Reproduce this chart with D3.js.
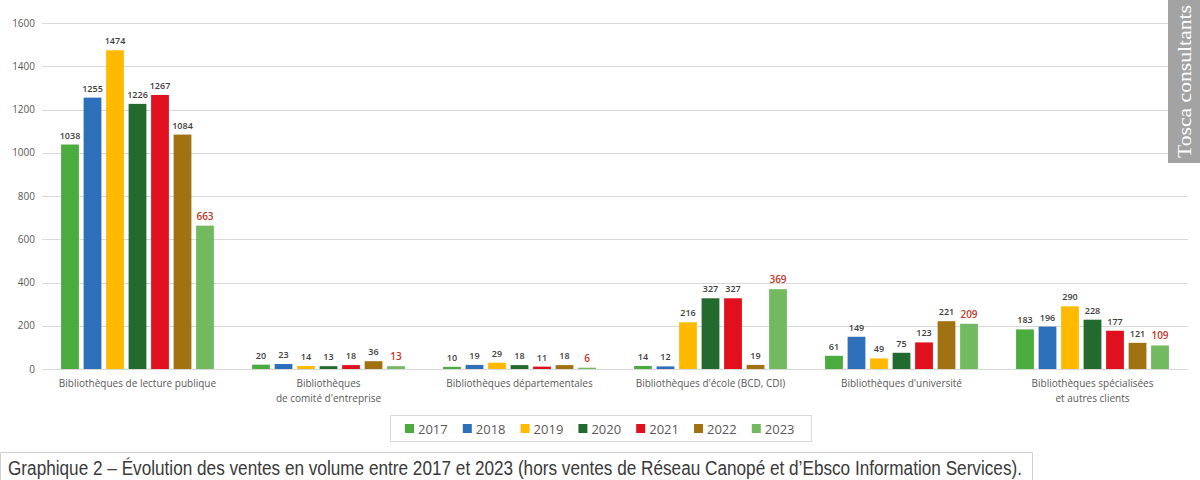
<!DOCTYPE html>
<html>
<head>
<meta charset="utf-8">
<script src="https://cdn.jsdelivr.net/npm/d3@7"></script>
<style>
  body { margin: 0; background: #fff; }
  svg { display: block; }
</style>
</head>
<body>
<svg id="chart" width="1200" height="480"></svg>
<script>
// Categories and series
const categories = [
    ["Bibliothèques de lecture publique"],
    ["Bibliothèques", "de comité d'entreprise"],
    ["Bibliothèques départementales"],
    ["Bibliothèques d'école (BCD, CDI)"],
    ["Bibliothèques d'université"],
    ["Bibliothèques spécialisées", "et autres clients"]
];
const years = ["2017", "2018", "2019", "2020", "2021", "2022", "2023"];
const v2017 = [1038, 20, 10, 14, 61, 183];
const v2018 = [1255, 23, 19, 12, 149, 196];
const v2019 = [1474, 14, 29, 216, 49, 290];
const v2020 = [1226, 13, 18, 327, 75, 228];
const v2021 = [1267, 18, 11, 327, 123, 177];
const v2022 = [1084, 36, 18, 19, 221, 121];
const v2023 = [663, 13, 6, 369, 209, 109];
const yTicks = [0, 200, 400, 600, 800, 1000, 1200, 1400, 1600];

const series = [v2017, v2018, v2019, v2020, v2021, v2022, v2023];
const colors = ["#4aab3e", "#2e6fb9", "#ffba00", "#226a2e", "#e0101e", "#a07212", "#72b95f"];

const svg = d3.select("#chart");
const margin = { top: 23, right: 12, bottom: 111, left: 42 };
const width = 1200, height = 480;

const x0 = d3.scaleBand()
    .domain(d3.range(categories.length))
    .range([margin.left, width - margin.right])
    .paddingInner(0.2)
    .paddingOuter(0.1);

const x1 = d3.scaleBand()
    .domain(years)
    .range([0, x0.bandwidth()])
    .paddingInner(0.21);

const y = d3.scaleLinear()
    .domain([0, 1600])
    .range([height - margin.bottom, margin.top]);

// Gridlines
svg.append("g")
    .selectAll("line")
    .data(yTicks)
    .enter()
    .append("line")
    .attr("x1", margin.left)
    .attr("x2", width - margin.right)
    .attr("y1", d => Math.round(y(d)) + 0.5)
    .attr("y2", d => Math.round(y(d)) + 0.5)
    .attr("stroke", "#d9d9d9")
    .attr("stroke-width", 1);

// Y axis labels
svg.append("g")
    .selectAll("text")
    .data(yTicks)
    .enter()
    .append("text")
    .attr("x", 35)
    .attr("y", d => y(d) + 3.5)
    .attr("text-anchor", "end")
    .style("font-family", "'Open Sans', sans-serif")
    .style("font-size", "10px")
    .style("fill", "#595959")
    .text(d => d);

// Bars
const groups = svg.append("g")
    .selectAll("g")
    .data(categories.map((c, i) => i))
    .enter()
    .append("g")
    .attr("transform", i => `translate(${x0(i)},0)`);

groups.selectAll("rect")
    .data(i => years.map((yr, k) => ({ yr, k, value: series[k][i] })))
    .enter()
    .append("rect")
    .attr("x", d => x1(d.yr))
    .attr("y", d => y(d.value))
    .attr("width", x1.bandwidth())
    .attr("height", d => y(0) - y(d.value))
    .attr("fill", d => colors[d.k]);

groups.selectAll("text.val")
    .data(i => years.map((yr, k) => ({ yr, k, value: series[k][i] })))
    .enter()
    .append("text")
    .attr("class", "val")
    .attr("x", d => x1(d.yr) + x1.bandwidth() / 2)
    .attr("y", d => y(d.value) - 6)
    .attr("text-anchor", "middle")
    .style("font-family", "'Open Sans', sans-serif")
    .style("font-size", d => d.k === 6 ? "10px" : "9px")
    .style("font-weight", "600")
    .style("fill", d => d.k === 6 ? "#c0392b" : "#404040")
    .text(d => d.value);

// Category labels
svg.append("g")
    .selectAll("text")
    .data(categories)
    .enter()
    .append("text")
    .attr("x", (c, i) => x0(i) + x0.bandwidth() / 2)
    .attr("y", 387)
    .attr("text-anchor", "middle")
    .style("font-family", "'Open Sans', sans-serif")
    .style("font-size", "10px")
    .style("fill", "#595959")
    .each(function(lines) {
        d3.select(this).selectAll("tspan")
            .data(lines)
            .enter()
            .append("tspan")
            .attr("x", d3.select(this).attr("x"))
            .attr("dy", (d, j) => j === 0 ? 0 : 15)
            .text(d => d);
    });

// Legend
const legend = svg.append("g");
legend.append("rect")
    .attr("x", 390.5)
    .attr("y", 415.5)
    .attr("width", 421)
    .attr("height", 26)
    .attr("fill", "#fff")
    .attr("stroke", "#d9d9d9");

const items = legend.selectAll("g")
    .data(years)
    .enter()
    .append("g")
    .attr("transform", (d, i) => `translate(${405 + i * 57.8},0)`);

items.append("rect")
    .attr("x", 0)
    .attr("y", 424)
    .attr("width", 9)
    .attr("height", 9)
    .attr("fill", (d, i) => colors[i]);

items.append("text")
    .attr("x", 13)
    .attr("y", 433.5)
    .style("font-family", "'Open Sans', sans-serif")
    .style("font-size", "13px")
    .style("fill", "#595959")
    .text(d => d);

// Caption
svg.append("path")
    .attr("d", "M0.5,480 V452.5 H1032.5 V480")
    .attr("fill", "none")
    .attr("stroke", "#d0d0d0");

svg.append("text")
    .attr("x", 8)
    .attr("y", 474.5)
    .attr("textLength", 1014)
    .attr("lengthAdjust", "spacingAndGlyphs")
    .style("font-family", "'Liberation Sans Narrow', 'Liberation Sans', Arial, sans-serif")
    .style("font-size", "20px")
    .style("fill", "#3a3a3a")
    .text("Graphique 2 – Évolution des ventes en volume entre 2017 et 2023 (hors ventes de Réseau Canopé et d’Ebsco Information Services).");

// Tosca consultants tag
svg.append("rect")
    .attr("x", 1168)
    .attr("y", 0)
    .attr("width", 32)
    .attr("height", 163)
    .attr("fill", "#a3a3a3");

svg.append("text")
    .attr("transform", "translate(1191,158) rotate(-90)")
    .style("font-family", "'Liberation Serif', 'DejaVu Serif', serif")
    .style("font-size", "19px")
    .style("fill", "#ffffff")
    .attr("textLength", 153)
    .attr("lengthAdjust", "spacingAndGlyphs")
    .text("Tosca consultants");
</script>
</body>
</html>
